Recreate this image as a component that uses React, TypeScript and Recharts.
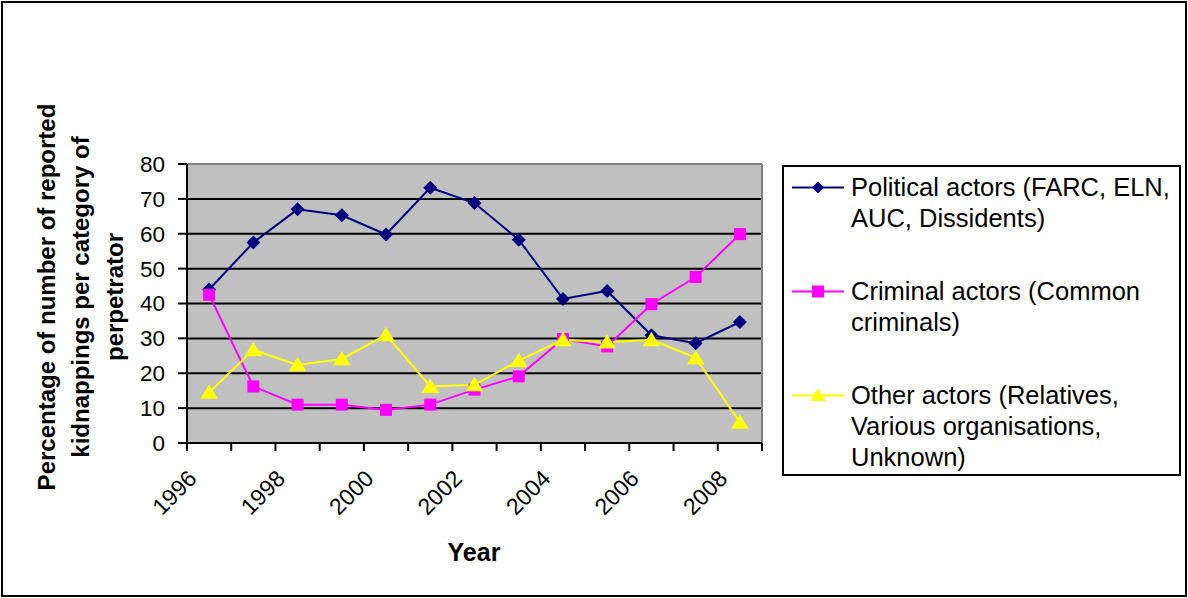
import { LineChart, Line, XAxis, YAxis, CartesianGrid, ReferenceLine } from 'recharts'

const FONT = "Arial, 'Liberation Sans', sans-serif"

// kidnappings per perpetrator category, share of reported cases (%)
const years = ['1996', '1997', '1998', '1999', '2000', '2001', '2002', '2003', '2004', '2005', '2006', '2007', '2008']
const political = [44, 57.5, 67, 65.3, 59.8, 73.2, 68.8, 58.3, 41.3, 43.6, 30.9, 28.6, 34.7]
const criminal = [42.5, 16.2, 11, 11, 9.5, 11, 15.3, 19.1, 29.8, 27.7, 39.8, 47.6, 59.9]
const other = [14.5, 26.7, 22.4, 24.1, 31, 16.2, 16.7, 23.6, 29.6, 28.9, 29.6, 24.4, 5.9]
const yTicks = [0, 10, 20, 30, 40, 50, 60, 70, 80]

const series = [
  { key: 'political', color: '#000080', shape: 'diamond', lines: ['Political actors (FARC, ELN,', 'AUC, Dissidents)'] },
  { key: 'criminal', color: '#FF00FF', shape: 'square', lines: ['Criminal actors (Common', 'criminals)'] },
  { key: 'other', color: '#FFFF00', shape: 'triangle', lines: ['Other actors (Relatives,', 'Various organisations,', 'Unknown)'] },
]

const data = years.map((y, i) => ({ x: i + 0.5, year: y, political: political[i], criminal: criminal[i], other: other[i] }))
// category boundaries get tick marks, category centres get the labels
const xTicks = years.flatMap((_, i) => [i, i + 0.5]).concat(years.length)

function marker(shape: string, cx: number, cy: number, color: string, s: number) {
  if (shape === 'diamond')
    return <polygon points={`${cx},${cy - s} ${cx + s},${cy} ${cx},${cy + s} ${cx - s},${cy}`} fill={color} />
  if (shape === 'square')
    return <rect x={cx - s} y={cy - s} width={s * 2} height={s * 2} fill={color} />
  return <polygon points={`${cx},${cy - s} ${cx + s * 1.1},${cy + s * 0.8} ${cx - s * 1.1},${cy + s * 0.8}`} fill={color} />
}

function Dot(shape: string, color: string, s: number) {
  return (p: any) => {
    if (p.cx == null || p.cy == null) return <g key={p.index} />
    return <g key={p.index}>{marker(shape, p.cx, p.cy, color, s)}</g>
  }
}

const dotSize: Record<string, number> = { diamond: 7, square: 6, triangle: 8 }

function XTick({ x, y, payload }: any) {
  const v = payload.value
  if (Number.isInteger(v)) return <line x1={x} y1={y} x2={x} y2={y + 8} stroke="#000" strokeWidth={2} />
  const i = Math.floor(v)
  if (i % 2) return <g />
  const ax = x - 11, ay = y + 37
  return (
    <text x={ax} y={ay} transform={`rotate(-45 ${ax} ${ay})`} textAnchor="end" fontSize={23} fontFamily={FONT} fill="#000">
      {years[i]}
    </text>
  )
}

export default function App() {
  return (
    <div style={{ position: 'absolute', left: 0, top: 0, width: 1188, height: 598, background: '#fff', fontFamily: FONT }}>
      <div style={{ position: 'absolute', left: 1, top: 1, width: 1186, height: 596, border: '2px solid #000', boxSizing: 'border-box' }} />

      <div style={{ position: 'absolute', left: 0, top: 0 }}>
        <LineChart width={1188} height={598} data={data} margin={{ top: 164, right: 426, bottom: 75, left: 0 }}>
          <CartesianGrid fill="#C0C0C0" vertical={false} stroke="#000" strokeWidth={2} />
          <XAxis
            dataKey="x"
            type="number"
            domain={[0, years.length]}
            ticks={xTicks}
            interval={0}
            height={80}
            tickSize={0}
            tickMargin={0}
            tickLine={false}
            axisLine={{ stroke: '#000', strokeWidth: 2 }}
            tick={(p: any) => <XTick {...p} />}
          />
          <YAxis
            type="number"
            domain={[0, 80]}
            ticks={yTicks}
            interval={0}
            width={187}
            tickSize={9}
            tickMargin={13}
            tickLine={{ stroke: '#000', strokeWidth: 2 }}
            axisLine={{ stroke: '#000', strokeWidth: 2 }}
            tick={{ fontSize: 22.5, fontFamily: FONT, fill: '#000' }}
          />
          <ReferenceLine y={80} stroke="#808080" strokeWidth={2} />
          <ReferenceLine x={years.length} stroke="#808080" strokeWidth={2} />
          {series.map(s => (
            <Line
              key={s.key}
              type="linear"
              dataKey={s.key}
              stroke={s.color}
              strokeWidth={2}
              dot={Dot(s.shape, s.color, dotSize[s.shape])}
              activeDot={false}
              isAnimationActive={false}
            />
          ))}
        </LineChart>
      </div>

      {/* rotated y-axis title */}
      <div style={{
        position: 'absolute', left: 81 - 220, top: 297 - 51, width: 440, height: 102,
        transform: 'rotate(-90deg)', textAlign: 'center', fontWeight: 700, fontSize: 24, lineHeight: '34px', color: '#000',
      }}>
        Percentage of number of reported<br />kidnappings per category of<br />perpetrator
      </div>

      <div style={{ position: 'absolute', left: 374, top: 537, width: 200, textAlign: 'center', fontWeight: 700, fontSize: 25, lineHeight: '30px', color: '#000' }}>
        Year
      </div>

      {/* legend */}
      <div style={{
        position: 'absolute', left: 782, top: 165, width: 399, height: 311, boxSizing: 'border-box',
        border: '2px solid #000', background: '#fff', padding: '5px 0 0 0', display: 'flex', flexDirection: 'column', gap: 42,
      }}>
        {series.map(s => (
          <div key={s.key} style={{ position: 'relative', paddingLeft: 67, fontSize: 25.5, lineHeight: '31px', color: '#000', whiteSpace: 'nowrap' }}>
            <svg width={56} height={31} style={{ position: 'absolute', left: 6, top: 0 }}>
              <line x1={2} y1={15.5} x2={54} y2={15.5} stroke={s.color} strokeWidth={2} />
              {marker(s.shape, 28, 15.5, s.color, s.shape === 'triangle' ? 7 : 6)}
            </svg>
            {s.lines.map((l, i) => <div key={i}>{l}</div>)}
          </div>
        ))}
      </div>
    </div>
  )
}
